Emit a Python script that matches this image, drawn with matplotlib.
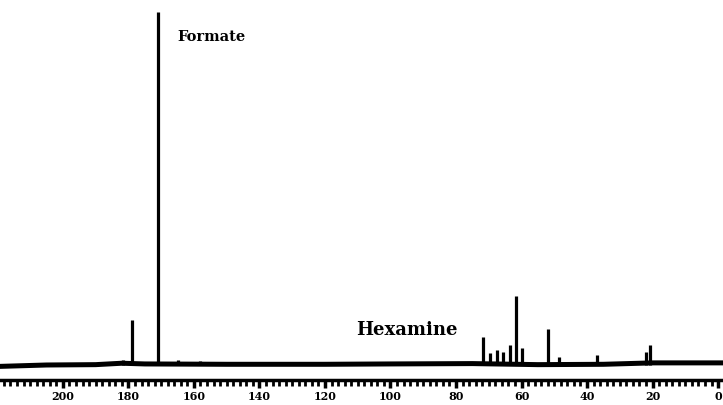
import matplotlib
matplotlib.use("Agg")
import matplotlib.pyplot as plt
from matplotlib.ticker import MultipleLocator

# Peak list (chemical shift in ppm, relative intensity)
peak_ppm = [181.7, 178.9, 171.0, 164.9, 158.0, 71.8, 69.6, 67.5, 65.6, 63.5,
            61.7, 59.8, 51.9, 48.7, 36.9, 22.0, 20.8]
peak_int = [1.5, 12.7, 100.0, 1.5, 1.0, 7.9, 3.4, 4.2, 3.7, 5.7,
            19.5, 4.8, 10.2, 2.3, 2.8, 3.7, 5.7]

# Baseline (ppm, intensity)
base_ppm = [219.5, 205, 190, 182, 175, 150, 120, 100, 75, 55, 35, 20, 5, -1.5]
base_int = [-0.4, 0.0, 0.1, 0.5, 0.3, 0.2, 0.2, 0.3, 0.4, 0.1, 0.2, 0.6, 0.6, 0.6]

tick_labels = [200, 180, 160, 140, 120, 100, 80, 60, 40, 20, 0]

labels = [("Formate", 165.0, 93.0, 10.5), ("Hexamine", 110.5, 9.9, 13)]

fig = plt.figure(figsize=(7.23, 4.05), dpi=100)
ax = fig.add_axes([0, 25 / 405, 1, 380 / 405])

ax.plot(base_ppm, base_int, color="black", lw=3.6, solid_capstyle="butt")
ax.vlines(peak_ppm, 0, peak_int, color="black", lw=2.3)

for txt, x, y, fs in labels:
    ax.text(x, y, txt, fontsize=fs, fontweight="bold", family="DejaVu Serif",
            va="center", ha="left", color="black")

ax.set_xlim(219.2, -1.5)
ax.set_ylim(-4.25, 103.4)
ax.xaxis.set_minor_locator(MultipleLocator(2))
ax.set_xticks(tick_labels)
ax.set_xticklabels([str(t) for t in tick_labels], fontsize=8,
                   fontweight="bold", family="DejaVu Serif")
ax.tick_params(axis="x", which="major", direction="out", length=6, width=2.5, pad=2)
ax.tick_params(axis="x", which="minor", direction="out", length=4, width=2.0)
ax.set_yticks([])
for s in ["top", "left", "right"]:
    ax.spines[s].set_visible(False)
ax.spines["bottom"].set_linewidth(2.5)
ax.patch.set_alpha(0)

fig.savefig("out.png", dpi=100)
